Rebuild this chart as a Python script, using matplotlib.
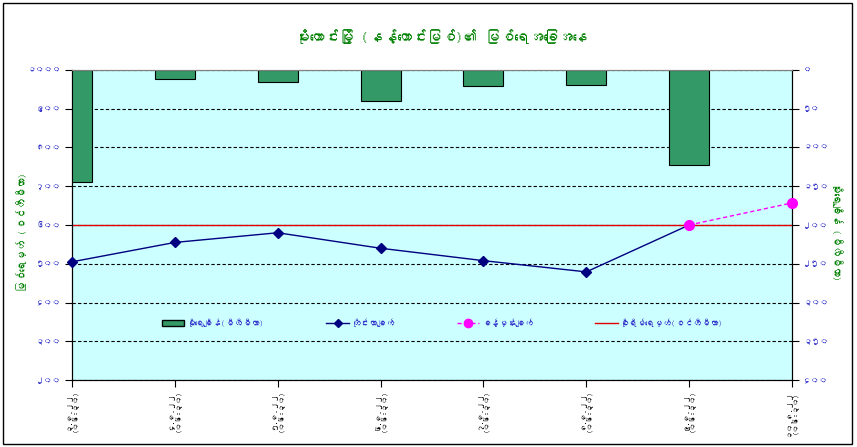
import matplotlib
matplotlib.use("Agg")
import matplotlib.pyplot as plt
import numpy as np
from matplotlib import font_manager
from matplotlib.ft2font import FT2Font
from matplotlib.lines import Line2D
from matplotlib.patches import Patch, Rectangle

# --- chart data ---
title = "မိုးကောင်းမြို့ (နန့်ကောင်းမြစ်)၏ မြစ်ရေအခြေအနေ"
left_label = "မြစ်ရေမှတ် (စင်တီမီတာ)"
right_label = "မိုးရေချိန် (မီလီမီတာ)"

dates = ["၃.၈.၂၂", "၄.၈.၂၂", "၅.၈.၂၂", "၆.၈.၂၂",
         "၇.၈.၂၂", "၈.၈.၂၂", "၉.၈.၂၂", "၁၀.၈.၂၂"]
obs_time = "(၀၆:၃၀)"

rainfall = [144, 12, 16, 40, 21, 20, 122, np.nan]            # mm
water_level = [505, 555, 580, 540, 508, 479, 600, np.nan]    # cm, measured
forecast = [np.nan, np.nan, np.nan, np.nan, np.nan, np.nan, 600, 657]
danger_level = 600

level_ticks = [200, 300, 400, 500, 600, 700, 800, 900, 1000]
level_tick_labels = ["၂၀၀", "၃၀၀", "၄၀၀", "၅၀၀", "၆၀၀", "၇၀၀", "၈၀၀", "၉၀၀", "၁၀၀၀"]
rain_ticks = [0, 50, 100, 150, 200, 250, 300, 350, 400]
rain_tick_labels = ["၀", "၅၀", "၁၀၀", "၁၅၀", "၂၀၀", "၂၅၀", "၃၀၀", "၃၅၀", "၄၀၀"]

legend_labels = ["မိုးရေချိန်(မီလီမီတာ)", "တိုင်းတာချက်", "ခန့်မှန်းချက်",
                 "စိုးရိမ်ရေမှတ်(စင်တီမီတာ)"]

GREEN = "#008000"
BLUE = "#3333CC"


def find_myanmar_font():
    # look for any installed family that has Myanmar glyphs
    for f in font_manager.fontManager.ttflist:
        try:
            if 0x1019 in FT2Font(f.fname).get_charmap():
                return f.name
        except Exception:
            pass
    return None


mm_font = find_myanmar_font()
if mm_font:
    plt.rcParams['font.family'] = [mm_font, 'DejaVu Sans']

fig = plt.figure(figsize=(8.57, 4.47), dpi=100)
fig.patch.set_facecolor("white")

# outer chart frame
fig.patches.append(Rectangle((3 / 857, 3 / 447), 849 / 857, 441 / 447,
                             transform=fig.transFigure, fill=False,
                             edgecolor="black", linewidth=1))

# rain axis sits behind (cyan plot area, grid, bars); level axis on top
ax_rain = fig.add_axes([72 / 857, 1 - 380 / 447, 720 / 857, 310 / 447])
ax = ax_rain.twinx()
ax_rain.yaxis.tick_right()
ax.yaxis.tick_left()

ax_rain.set_facecolor("#CCFFFF")
ax.patch.set_visible(False)

x = np.arange(len(dates))

# rainfall bars hanging from the top
ax_rain.bar(x, rainfall, width=0.39, color="#339966", edgecolor="black",
            linewidth=0.8, zorder=3)
ax_rain.set_ylim(400, 0)
ax_rain.set_yticks(rain_ticks)
ax_rain.set_yticklabels(rain_tick_labels)
ax_rain.grid(axis="y", color="black", linestyle=(0, (3, 2)), linewidth=0.8, zorder=1)
ax_rain.set_axisbelow(True)

# water level lines
ax.axhline(danger_level, color="#E00000", linewidth=1, zorder=2)
ax.plot(x, water_level, color="#000080", linewidth=1, marker="D",
        markersize=5, zorder=4, clip_on=False)
ax.plot(x, forecast, color="#FF00FF", linewidth=1, linestyle=(0, (3, 2)),
        marker="o", markersize=7, zorder=5, clip_on=False)
ax.set_ylim(200, 1000)
ax.set_yticks(level_ticks)
ax.set_yticklabels(level_tick_labels)

# the visible x axis belongs to the lower (rain) axes
ax_rain.set_xlim(0, len(dates) - 1)
ax_rain.set_xticks(x)
ax_rain.set_xticklabels([d + "\n" + obs_time for d in dates], rotation=90,
                        va="top", ha="center", color=BLUE, fontsize=5.5,
                        linespacing=1.0)

for a in (ax, ax_rain):
    a.tick_params(axis="y", colors="black", labelcolor=BLUE, labelsize=6,
                  length=5, direction="out", pad=3)
    a.tick_params(axis="x", colors="black", length=5, direction="out", pad=2)
    for side in ("left", "right", "bottom"):
        a.spines[side].set_color("black")
    a.spines["top"].set_color("#808080")

fig.text(22 / 857, 1 - 232 / 447, left_label, color=GREEN, fontsize=7.5,
         rotation=90, ha="center", va="center")
fig.text(837 / 857, 1 - 231 / 447, right_label, color=GREEN, fontsize=7.5,
         rotation=270, ha="center", va="center")

fig.text(441 / 857, 1 - 37 / 447, title, color=GREEN, fontsize=10.5,
         ha="center", va="center")

handles = [
    Patch(facecolor="#339966", edgecolor="black"),
    Line2D([], [], color="#000080", marker="D", markersize=4, linewidth=1),
    Line2D([], [], color="#FF00FF", marker="o", markersize=6, linewidth=1,
           linestyle=(0, (3, 2))),
    Line2D([], [], color="#E00000", linewidth=1),
]
leg = ax.legend(handles, legend_labels, loc="center",
                bbox_to_anchor=(0.515, 0.184), ncol=4, frameon=False,
                fontsize=6.2, columnspacing=7.2, handlelength=2.6,
                handletextpad=0.3)
for t in leg.get_texts():
    t.set_color(BLUE)

fig.savefig("out.png", dpi=100)
